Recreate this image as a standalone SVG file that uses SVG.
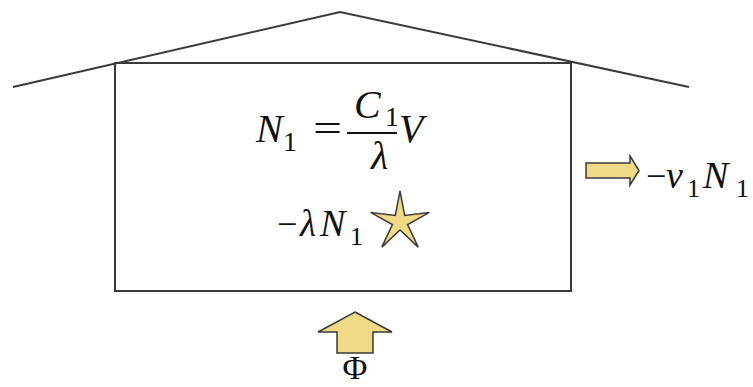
<svg xmlns="http://www.w3.org/2000/svg" width="753" height="387" viewBox="0 0 753 387">
<style>
.ln{fill:none;stroke:#3a3a3a;stroke-width:2}
.yel{fill:#f1da86;stroke:#3a3a3a;stroke-width:1.5;stroke-linejoin:miter}
.m{font-family:"Liberation Serif","DejaVu Serif",serif;fill:#111}
.i{font-style:italic}
</style>
<rect width="753" height="387" fill="#fff"/>
<g id="roof"><polyline class="ln" points="13,87 340,12 689,87"/></g>
<g id="house"><rect class="ln" x="115" y="63" width="456" height="228"/></g>
<g id="equation">
<text class="m i" x="256" y="142" font-size="40">N</text>
<text class="m" x="283" y="151" font-size="28">1</text>
<text class="m" x="313" y="142" font-size="40" textLength="29" lengthAdjust="spacingAndGlyphs">=</text>
<line x1="347" y1="133" x2="397" y2="133" stroke="#111" stroke-width="2"/>
<text class="m i" x="354" y="118" font-size="40">C</text>
<text class="m" x="385" y="126" font-size="28">1</text>
<text class="m i" x="371" y="169" font-size="40">λ</text>
<text class="m i" x="399" y="142" font-size="40">V</text>
</g>
<g id="decay">
<text class="m" x="277" y="236" font-size="36">−</text>
<text class="m i" x="300" y="236" font-size="37">λ</text>
<text class="m i" x="320" y="236" font-size="38">N</text>
<text class="m" x="350" y="245" font-size="26">1</text>
<polygon class="yel" points="400,191 404.7,215.5 429.5,212.4 407.6,224.5 418.2,247.1 400,230 381.8,247.1 392.4,224.5 370.5,212.4 395.3,215.5"/>
</g>
<g id="outflow">
<polygon class="yel" points="586,163 630,163 630,156 639,170.5 630,185 630,178 586,178"/>
<text class="m" x="646" y="188" font-size="36">−</text>
<text class="m i" x="666" y="188" font-size="38">ν</text>
<text class="m" x="687" y="197" font-size="26">1</text>
<text class="m i" x="703" y="188" font-size="38">N</text>
<text class="m" x="736" y="197" font-size="26">1</text>
</g>
<g id="inflow">
<polygon class="yel" points="355,312 392,332 373,332 373,353 337,353 337,332 318,332"/>
<text class="m" x="355" y="379" font-size="34" text-anchor="middle">Φ</text>
</g>
</svg>
